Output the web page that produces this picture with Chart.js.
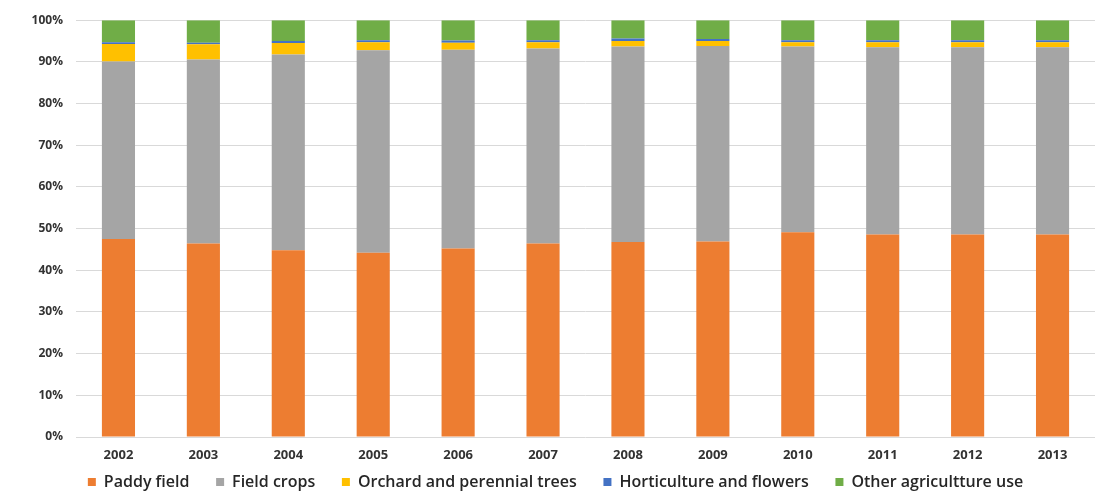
<!DOCTYPE html>
<html>
<head>
<meta charset="utf-8">
<script src="https://cdn.jsdelivr.net/npm/chart.js@4.4.1/dist/chart.umd.min.js"></script>
<style>
  html, body { margin: 0; padding: 0; background: #ffffff; }
  #wrap { width: 1098px; height: 498px; position: relative; }
</style>
</head>
<body>
<div id="wrap"><canvas id="c" width="1098" height="498"></canvas></div>
<script>
// Share of agricultural land by use (%), 2002-2013
const years = ['2002','2003','2004','2005','2006','2007','2008','2009','2010','2011','2012','2013'];
const paddyField   = [47.5, 46.4, 44.8, 44.2, 45.2, 46.4, 46.8, 46.9, 49.1, 48.6, 48.6, 48.6];
const fieldCrops   = [42.6, 44.2, 47.0, 48.6, 47.7, 46.8, 46.9, 46.9, 44.6, 44.9, 44.9, 44.9];
const orchardTrees = [4.2, 3.6, 2.7, 1.9, 1.7, 1.5, 1.3, 1.2, 1.0, 1.2, 1.2, 1.2];
const horticulture = [0.4, 0.4, 0.5, 0.5, 0.5, 0.5, 0.6, 0.5, 0.5, 0.5, 0.5, 0.5];
const otherUse     = [5.3, 5.4, 5.0, 4.8, 4.9, 4.8, 4.4, 4.5, 4.8, 4.8, 4.8, 4.8];
const yTicks = [0, 10, 20, 30, 40, 50, 60, 70, 80, 90, 100];

const seriesNames  = ['Paddy field', 'Field crops', 'Orchard and perennial trees', 'Horticulture and flowers', 'Other agricultture use'];
const seriesValues = [paddyField, fieldCrops, orchardTrees, horticulture, otherUse];
const seriesColors = ['#ED7D31', '#A5A5A5', '#FFC000', '#4472C4', '#70AD47'];

const FONT = "'Open Sans', 'Liberation Sans', sans-serif";
// extra horizontal room after each legend entry except the last
const LEGEND_GAP = '    ';

new Chart(document.getElementById('c'), {
  type: 'bar',
  data: {
    labels: years,
    datasets: seriesNames.map((name, i) => ({
      label: name,
      data: seriesValues[i],
      backgroundColor: seriesColors[i],
      borderWidth: 0,
      categoryPercentage: 1.0,
      barPercentage: 0.39
    }))
  },
  options: {
    responsive: false,
    animation: false,
    layout: { padding: { left: 16, right: 3, top: 19, bottom: 0 } },
    scales: {
      x: {
        stacked: true,
        grid: { display: false },
        border: { display: false },
        afterFit: (axis) => { axis.height = 27; },
        ticks: {
          color: '#333333',
          font: { family: FONT, size: 13, weight: 'bold' },
          padding: 2
        }
      },
      y: {
        stacked: true,
        min: 0,
        max: 100,
        afterBuildTicks: (axis) => { axis.ticks = yTicks.map(v => ({ value: v })); },
        afterFit: (axis) => { axis.width = 60; },
        grid: { color: '#d9d9d9', lineWidth: 1, drawTicks: false },
        border: { display: false },
        ticks: {
          color: '#333333',
          font: { family: FONT, size: 12, weight: 'bold' },
          padding: 13,
          callback: (v) => v + '%'
        }
      }
    },
    plugins: {
      legend: {
        position: 'bottom',
        maxHeight: 34,
        labels: {
          boxWidth: 8,
          boxHeight: 8,
          padding: 10,
          color: '#262626',
          font: { family: FONT, size: 16, weight: '600' },
          generateLabels: (chart) => {
            const items = Chart.defaults.plugins.legend.labels.generateLabels(chart);
            items.forEach((it, i) => {
              it.lineWidth = 0;
              if (i < items.length - 1) it.text = it.text + LEGEND_GAP;
            });
            return items;
          }
        }
      },
      tooltip: { enabled: false }
    }
  }
});
</script>
</body>
</html>
